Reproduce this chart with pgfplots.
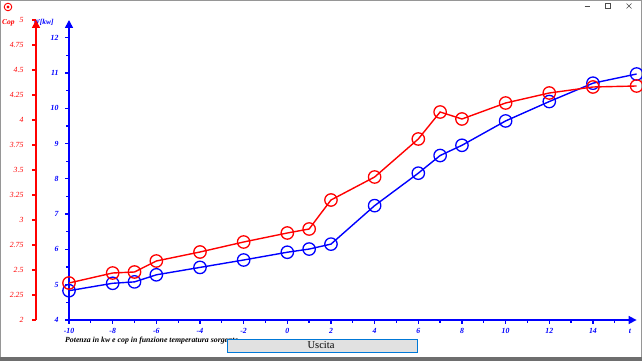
\documentclass[border=0pt]{standalone}
\usepackage{fontspec}
\setmainfont{Liberation Serif}
\usepackage{pgfplots}
\pgfplotsset{compat=1.18}
\usetikzlibrary{arrows.meta}
\definecolor{myred}{RGB}{255,0,0}
\definecolor{myblue}{RGB}{0,0,255}
\definecolor{btnfill}{RGB}{225,225,225}
\definecolor{btnborder}{RGB}{0,120,215}
\definecolor{framec}{RGB}{150,150,150}
\definecolor{bandc}{RGB}{110,110,110}

\pgfplotstableread{
x y
-10 4.83
-8 5.04
-7 5.08
-6 5.28
-4 5.49
-2 5.70
0 5.92
1 6.01
2 6.15
4 7.24
6 8.16
7 8.66
8 8.95
10 9.64
12 10.19
14 10.71
16 10.97
}\potenza

\pgfplotstableread{
x y
-10 2.37
-8 2.47
-7 2.48
-6 2.59
-4 2.68
-2 2.78
0 2.87
1 2.91
2 3.20
4 3.43
6 3.81
7 4.08
8 4.01
10 4.17
12 4.27
14 4.33
16 4.34
}\cop

\begin{document}
\begin{tikzpicture}[x=1pt,y=1pt]
\fill[white] (0,0) rectangle (642,361);
% window chrome
\draw[framec, line width=1pt] (0.5,0) -- (0.5,361);
\draw[framec, line width=1pt] (641.5,0) -- (641.5,361);
\draw[framec, line width=0.6pt] (0,360.7) -- (642,360.7);
\fill[bandc] (0,0) rectangle (642,4);
\draw[myred, line width=0.9pt] (8,354) circle (3.8pt);
\fill[myred] (8,354) circle (1.6pt);
\draw[black!70, line width=0.6pt] (584.5,355) -- (590,355);
\draw[black!70, line width=0.6pt] (605.5,352.5) rectangle (610.5,357.5);
\draw[black!70, line width=0.6pt] (626.5,352.5) -- (631.5,357.5) (626.5,357.5) -- (631.5,352.5);

% labels at top
\node[anchor=west, inner sep=0, text=myblue, font=\fontsize{7.5}{8}\selectfont\itshape\bfseries] at (33,339) {W[kw]};
\node[anchor=west, inner sep=0, text=myred, font=\fontsize{7.5}{8}\selectfont\itshape\bfseries] at (2,338) {Cop};

% main blue axis
\begin{axis}[at={(69pt,41pt)}, anchor=south west, scale only axis,
  width=567.6pt, height=300pt,
  xmin=-10, xmax=16, ymin=4, ymax=12.5,
  axis x line=bottom, axis y line=left,
  x axis line style={myblue, line width=1.6pt, -{Triangle[length=8pt,width=8pt]}},
  y axis line style={myblue, line width=1.6pt, -{Triangle[length=8pt,width=8pt]}},
  xtick={-10,-8,-6,-4,-2,0,2,4,6,8,10,12,14},
  minor xtick={-9,-7,-5,-3,-1,1,3,5,7,9,11,13,15},
  ytick={4,5,6,7,8,9,10,11,12},
  minor ytick={4.5,5.5,6.5,7.5,8.5,9.5,10.5,11.5},
  tick align=outside, major tick length=4pt, minor tick length=3pt,
  every tick/.style={myblue, line width=1.3pt},
  /pgf/number format/assume math mode=true,
  ticklabel style={text=myblue, font=\fontsize{7.8}{8}\selectfont\itshape\bfseries},
  yticklabel style={xshift=-3pt},
  xticklabel style={yshift=-1pt},
  clip=false]
\addplot[myblue, line width=1.4pt, mark=o, mark size=6.2pt, mark options={line width=1.3pt}] table[x=x,y=y] {\potenza};
\node[text=myblue, font=\fontsize{7.8}{8}\selectfont\itshape\bfseries] at (axis cs:15.7,3.69) {t};
\end{axis}

% red data axis
\begin{axis}[at={(69pt,41pt)}, anchor=south west, scale only axis,
  width=567.6pt, height=300pt,
  xmin=-10, xmax=16, ymin=2, ymax=5, hide axis, clip=false]
\addplot[myred, line width=1.4pt, mark=o, mark size=6.2pt, mark options={line width=1.3pt}] table[x=x,y=y] {\cop};
\end{axis}

% red cop axis
\begin{axis}[at={(36pt,41pt)}, anchor=south west, scale only axis,
  width=1pt, height=300pt,
  xmin=0, xmax=1, ymin=2, ymax=5,
  axis y line=left, axis x line=none, xtick=\empty,
  y axis line style={myred, line width=1.6pt, -{Triangle[length=8pt,width=8pt]}},
  ytick={2,2.25,2.5,2.75,3,3.25,3.5,3.75,4,4.25,4.5,4.75,5},
  tick align=outside, major tick length=4pt,
  every tick/.style={myred, line width=1.3pt},
  /pgf/number format/assume math mode=true,
  yticklabel={\pgfmathprintnumber[fixed,precision=2]{\tick}},
  yticklabel style={text=myred, font=\fontsize{7.8}{8}\selectfont\itshape, xshift=-5pt},
  clip=false]
\end{axis}

% caption and button
\node[anchor=west, inner sep=0, font=\fontsize{7.8}{8}\selectfont\itshape\bfseries] at (65,20) {Potenza in kw e cop in funzione temperatura sorgente};
\draw[btnborder, fill=btnfill, line width=0.8pt] (227,9) rectangle (417,22);
\node[font=\fontsize{10.5}{11}\selectfont] at (321,15.5) {Uscita};

\pgfresetboundingbox
\path[use as bounding box] (0,0) rectangle (642,361);
\end{tikzpicture}
\end{document}
